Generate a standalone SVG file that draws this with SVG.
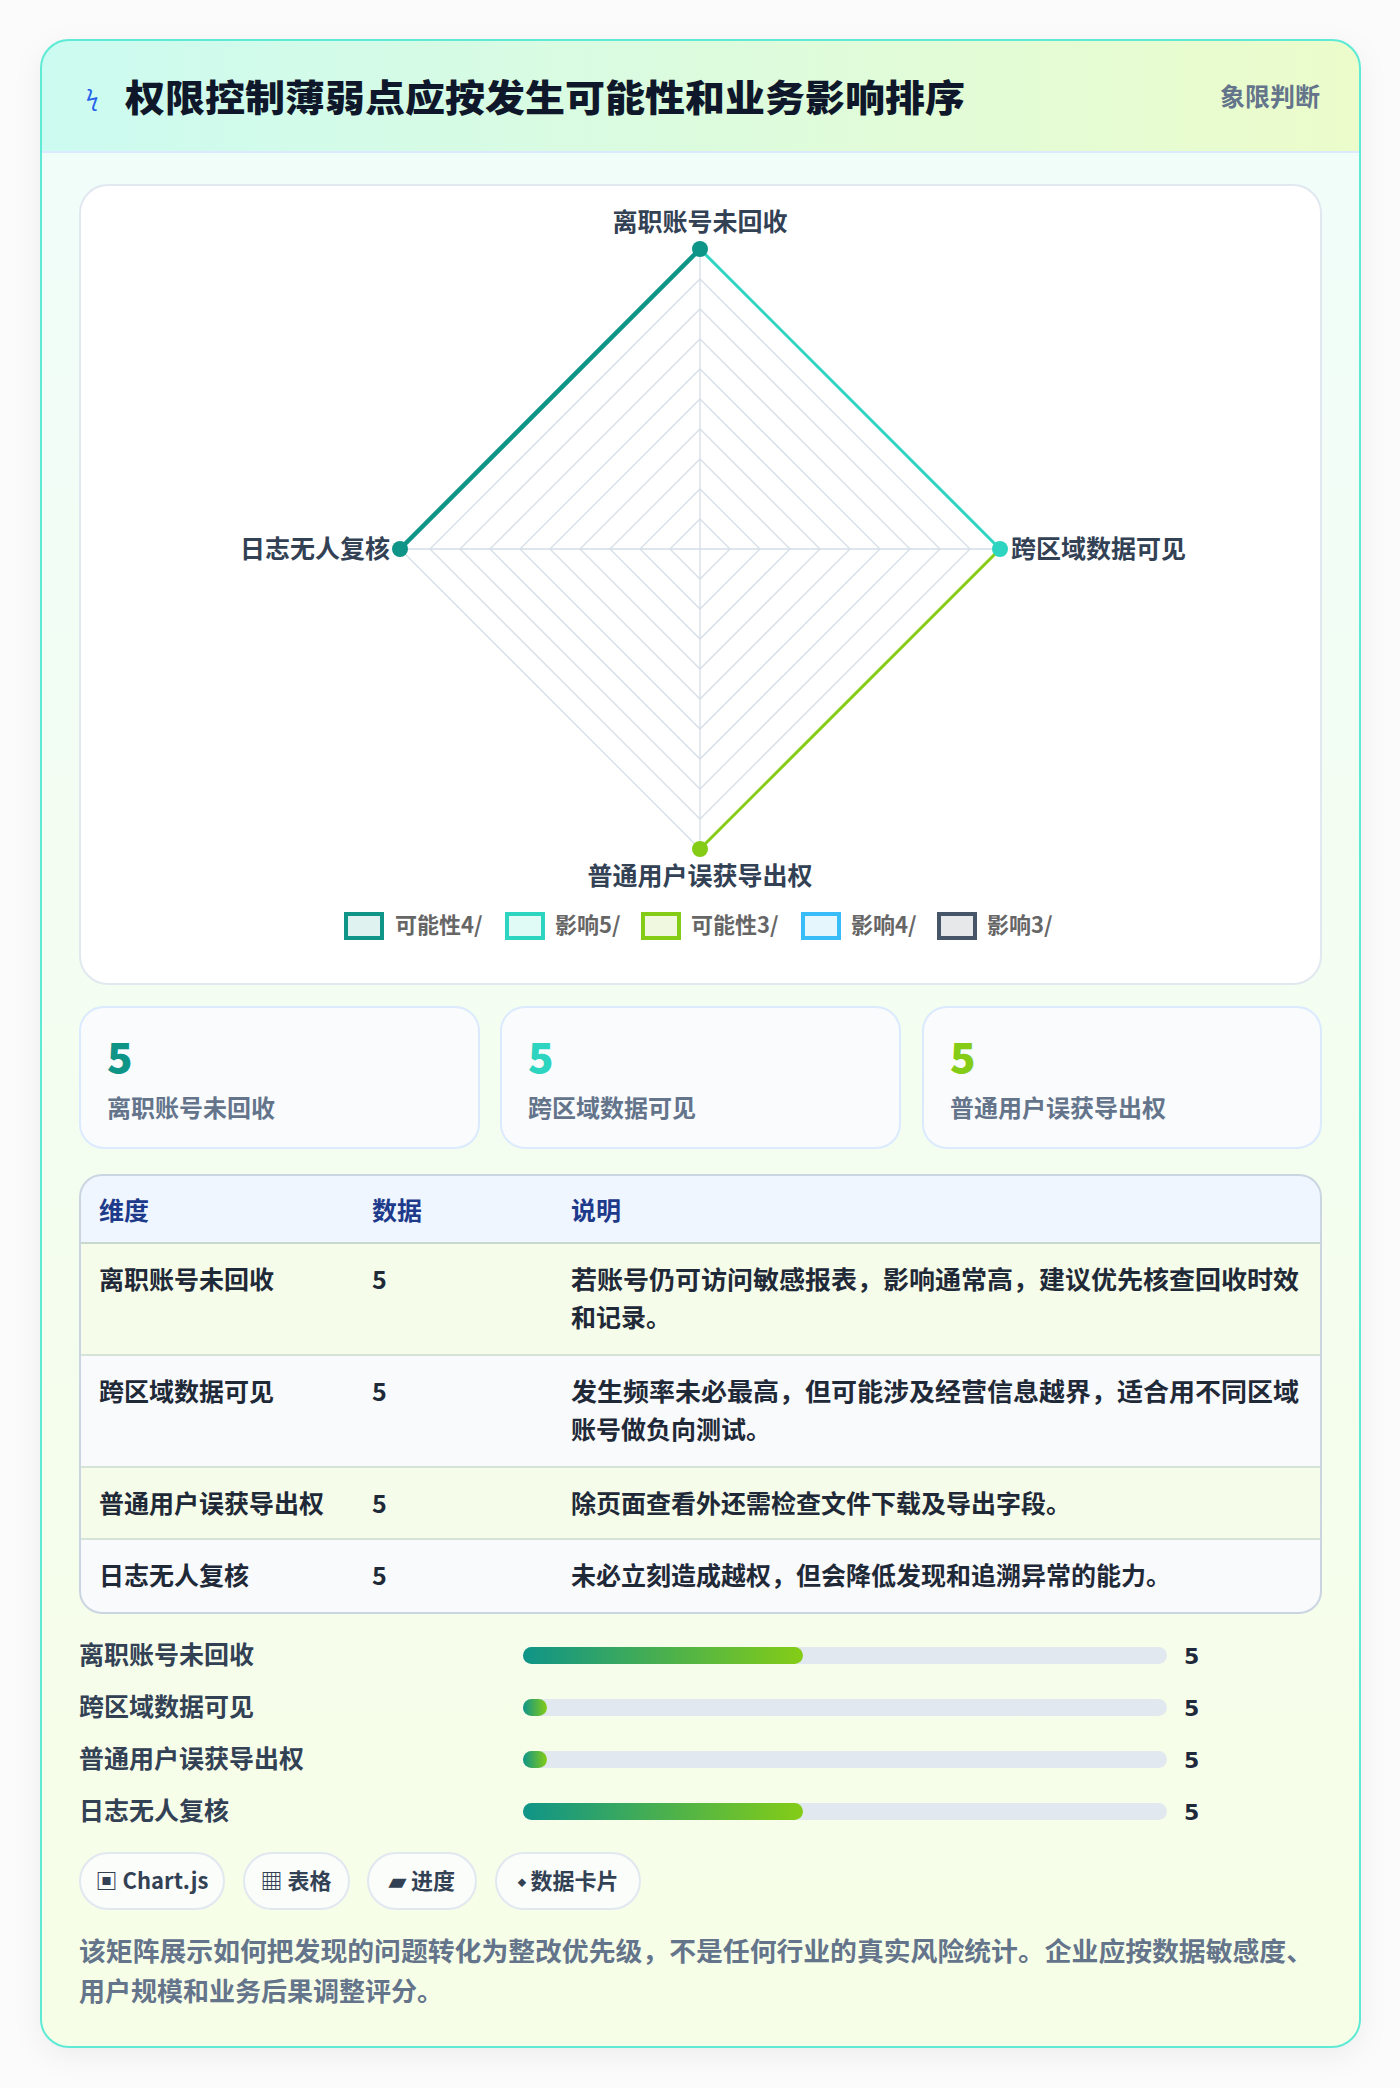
<svg xmlns="http://www.w3.org/2000/svg" width="1400" height="2088" viewBox="0 0 1400 2088">
<defs>
<linearGradient id="hdr" x1="0" y1="0" x2="1" y2="0"><stop offset="0" stop-color="#ccfbf1"/><stop offset="1" stop-color="#ecfccb"/></linearGradient>
<linearGradient id="body" x1="0" y1="0" x2="0" y2="1"><stop offset="0" stop-color="#f0fdfa"/><stop offset="1" stop-color="#f7fee7"/></linearGradient>
<linearGradient id="bar" x1="0" y1="0" x2="1" y2="0"><stop offset="0" stop-color="#0f9488"/><stop offset="1" stop-color="#84cc16"/></linearGradient>
<clipPath id="cardclip"><rect x="41" y="40" width="1319" height="2007" rx="28"/></clipPath>
<filter id="sh" x="-5%" y="-5%" width="110%" height="110%"><feDropShadow dx="0" dy="8" stdDeviation="14" flood-color="#000" flood-opacity="0.06"/></filter>
</defs>
<style>
text{font-family:"Noto Sans CJK SC","Noto Sans",sans-serif}
.lab{font-size:25px;font-weight:700;fill:#334155}
.leg{font-size:22px;font-weight:600;fill:#666}
.num{font-size:42px;font-weight:800}
.slab{font-size:24px;font-weight:600;fill:#64748b}
.th{font-size:25px;font-weight:700;fill:#1e3a8a}
.td{font-size:25px;font-weight:600;fill:#1f2937}
.grid{fill:none;stroke:#d5dde6;stroke-width:1.3}
.chip{fill:#fbfdfb;stroke:#e2e8f0;stroke-width:2}
.ct{font-size:22px;font-weight:700;fill:#334155}
.val{font-size:22px;font-weight:800;fill:#1e293b;font-family:"DejaVu Sans",sans-serif}
</style>
<rect width="1400" height="2088" fill="#fbfbfb"/>
<g id="card">
<rect x="41" y="40" width="1319" height="2007" rx="28" fill="url(#body)" filter="url(#sh)"/>
<g clip-path="url(#cardclip)">
<rect x="41" y="40" width="1319" height="112" fill="url(#hdr)"/>
<rect x="41" y="151" width="1319" height="2" fill="#dbeafe"/>
</g>
<rect x="41" y="40" width="1319" height="2007" rx="28" fill="none" stroke="#5eead4" stroke-width="2"/>
</g>
<g id="header">
<text x="86" y="106" font-size="22" fill="#2563eb" font-family="DejaVu Sans,sans-serif">ϟ</text>
<text x="125" y="112" font-size="37" font-weight="800" fill="#0f172a" textLength="840" lengthAdjust="spacingAndGlyphs">权限控制薄弱点应按发生可能性和业务影响排序</text>
<text x="1320" y="106" font-size="25" font-weight="700" fill="#64748b" text-anchor="end">象限判断</text>
</g>
<g id="radar">
<rect x="80" y="185" width="1241" height="799" rx="28" fill="#fff" stroke="#e2e8f0" stroke-width="2"/>
<g>
<path class="grid" d="M700 519L730 549L700 579L670 549Z"/>
<path class="grid" d="M700 489L760 549L700 609L640 549Z"/>
<path class="grid" d="M700 459L790 549L700 639L610 549Z"/>
<path class="grid" d="M700 429L820 549L700 669L580 549Z"/>
<path class="grid" d="M700 399L850 549L700 699L550 549Z"/>
<path class="grid" d="M700 369L880 549L700 729L520 549Z"/>
<path class="grid" d="M700 339L910 549L700 759L490 549Z"/>
<path class="grid" d="M700 309L940 549L700 789L460 549Z"/>
<path class="grid" d="M700 279L970 549L700 819L430 549Z"/>
<path class="grid" d="M700 249L1000 549L700 849L400 549Z"/>
<path class="grid" d="M700 249V849M400 549H1000"/>
</g>
<g id="series">
<line x1="400" y1="549" x2="700" y2="249" stroke="#0f9488" stroke-width="4.5"/>
<line x1="700" y1="249" x2="1000" y2="549" stroke="#2dd4bf" stroke-width="3"/>
<line x1="1000" y1="549" x2="700" y2="849" stroke="#84cc16" stroke-width="3"/>
<circle cx="700" cy="249" r="8" fill="#0f9488"/>
<circle cx="400" cy="549" r="8" fill="#0f9488"/>
<circle cx="1000" cy="549" r="8" fill="#2dd4bf"/>
<circle cx="700" cy="849" r="8" fill="#84cc16"/>
</g>
<text class="lab" x="700" y="231" text-anchor="middle">离职账号未回收</text>
<text class="lab" x="390" y="558" text-anchor="end">日志无人复核</text>
<text class="lab" x="1011" y="558">跨区域数据可见</text>
<text class="lab" x="700" y="885" text-anchor="middle">普通用户误获导出权</text>
<g id="legend">
<rect x="346" y="914" width="36" height="24" fill="#e0f2ef" stroke="#0f9488" stroke-width="4"/>
<text class="leg" x="395" y="933">可能性4/</text>
<rect x="507" y="914" width="36" height="24" fill="#e0faf6" stroke="#2dd4bf" stroke-width="4"/>
<text class="leg" x="555" y="933">影响5/</text>
<rect x="643" y="914" width="36" height="24" fill="#f0f9e0" stroke="#84cc16" stroke-width="4"/>
<text class="leg" x="691" y="933">可能性3/</text>
<rect x="803" y="914" width="36" height="24" fill="#e6f6fd" stroke="#38bdf8" stroke-width="4"/>
<text class="leg" x="851" y="933">影响4/</text>
<rect x="939" y="914" width="36" height="24" fill="#e6e8ea" stroke="#475569" stroke-width="4"/>
<text class="leg" x="987" y="933">影响3/</text>
</g>
</g>
<g id="stats">
<rect x="80" y="1007" width="399" height="141" rx="24" fill="#f9fbfd" stroke="#dbeafe" stroke-width="2"/>
<text class="num" x="107" y="1073" fill="#0f9488">5</text>
<text class="slab" x="107" y="1117">离职账号未回收</text>
<rect x="501" y="1007" width="399" height="141" rx="24" fill="#f9fbfd" stroke="#dbeafe" stroke-width="2"/>
<text class="num" x="528" y="1073" fill="#2dd4bf">5</text>
<text class="slab" x="528" y="1117">跨区域数据可见</text>
<rect x="923" y="1007" width="398" height="141" rx="24" fill="#f9fbfd" stroke="#dbeafe" stroke-width="2"/>
<text class="num" x="950" y="1073" fill="#84cc16">5</text>
<text class="slab" x="950" y="1117">普通用户误获导出权</text>
</g>
<g id="table">
<clipPath id="tclip"><rect x="80" y="1175" width="1241" height="438" rx="22"/></clipPath>
<g clip-path="url(#tclip)">
<rect x="80" y="1175" width="1241" height="68" fill="#eff6ff"/>
<rect x="80" y="1243" width="1241" height="112" fill="#f5fce9"/>
<rect x="80" y="1355" width="1241" height="112" fill="#f8fafc"/>
<rect x="80" y="1467" width="1241" height="72" fill="#f5fce9"/>
<rect x="80" y="1539" width="1241" height="74" fill="#f8fafc"/>
<rect x="80" y="1242" width="1241" height="2" fill="#c9d8cf"/>
<rect x="80" y="1354" width="1241" height="2" fill="#d6e3d8"/>
<rect x="80" y="1466" width="1241" height="2" fill="#d6e3d8"/>
<rect x="80" y="1538" width="1241" height="2" fill="#d6e3d8"/>
</g>
<rect x="80" y="1175" width="1241" height="438" rx="22" fill="none" stroke="#cbd5e1" stroke-width="2"/>
<text class="th" x="99" y="1220">维度</text>
<text class="th" x="372" y="1220">数据</text>
<text class="th" x="571" y="1220">说明</text>
<text class="td" x="99" y="1289">离职账号未回收</text>
<text class="td" x="372" y="1289">5</text>
<text class="td" x="571" y="1289" textLength="728" lengthAdjust="spacingAndGlyphs">若账号仍可访问敏感报表，影响通常高，建议优先核查回收时效</text>
<text class="td" x="571" y="1327">和记录。</text>
<text class="td" x="99" y="1401">跨区域数据可见</text>
<text class="td" x="372" y="1401">5</text>
<text class="td" x="571" y="1401" textLength="728" lengthAdjust="spacingAndGlyphs">发生频率未必最高，但可能涉及经营信息越界，适合用不同区域</text>
<text class="td" x="571" y="1439">账号做负向测试。</text>
<text class="td" x="99" y="1513">普通用户误获导出权</text>
<text class="td" x="372" y="1513">5</text>
<text class="td" x="571" y="1513">除页面查看外还需检查文件下载及导出字段。</text>
<text class="td" x="99" y="1585">日志无人复核</text>
<text class="td" x="372" y="1585">5</text>
<text class="td" x="571" y="1585">未必立刻造成越权，但会降低发现和追溯异常的能力。</text>
</g>
<g id="bars">
<text class="lab" x="79" y="1664" font-size="26">离职账号未回收</text>
<rect x="523" y="1647" width="644" height="17" rx="8.5" fill="#e2e8f0"/>
<rect x="523" y="1647" width="280" height="17" rx="8.5" fill="url(#bar)"/>
<text class="val" x="1184" y="1664">5</text>
<text class="lab" x="79" y="1716">跨区域数据可见</text>
<rect x="523" y="1699" width="644" height="17" rx="8.5" fill="#e2e8f0"/>
<rect x="523" y="1699" width="24" height="17" rx="8.5" fill="url(#bar)"/>
<text class="val" x="1184" y="1716">5</text>
<text class="lab" x="79" y="1768">普通用户误获导出权</text>
<rect x="523" y="1751" width="644" height="17" rx="8.5" fill="#e2e8f0"/>
<rect x="523" y="1751" width="24" height="17" rx="8.5" fill="url(#bar)"/>
<text class="val" x="1184" y="1768">5</text>
<text class="lab" x="79" y="1820">日志无人复核</text>
<rect x="523" y="1803" width="644" height="17" rx="8.5" fill="#e2e8f0"/>
<rect x="523" y="1803" width="280" height="17" rx="8.5" fill="url(#bar)"/>
<text class="val" x="1184" y="1820">5</text>
</g>
<g id="chips">
<rect class="chip" x="80" y="1853" width="144" height="56" rx="28"/>
<text class="ct" x="152" y="1889" text-anchor="middle">▣ Chart.js</text>
<rect class="chip" x="244" y="1853" width="105" height="56" rx="28"/>
<text class="ct" x="296" y="1889" text-anchor="middle">▦ 表格</text>
<rect class="chip" x="368" y="1853" width="108" height="56" rx="28"/>
<text class="ct" x="422" y="1889" text-anchor="middle">▰ 进度</text>
<rect class="chip" x="496" y="1853" width="144" height="56" rx="28"/>
<text class="ct" x="568" y="1889" text-anchor="middle">⬩ 数据卡片</text>
</g>
<g id="footer">
<text x="79" y="1961" font-size="26" font-weight="700" fill="#64748b" textLength="1234" lengthAdjust="spacingAndGlyphs">该矩阵展示如何把发现的问题转化为整改优先级，不是任何行业的真实风险统计。企业应按数据敏感度、</text>
<text x="79" y="2001" font-size="26" font-weight="700" fill="#64748b">用户规模和业务后果调整评分。</text>
</g>
</svg>
